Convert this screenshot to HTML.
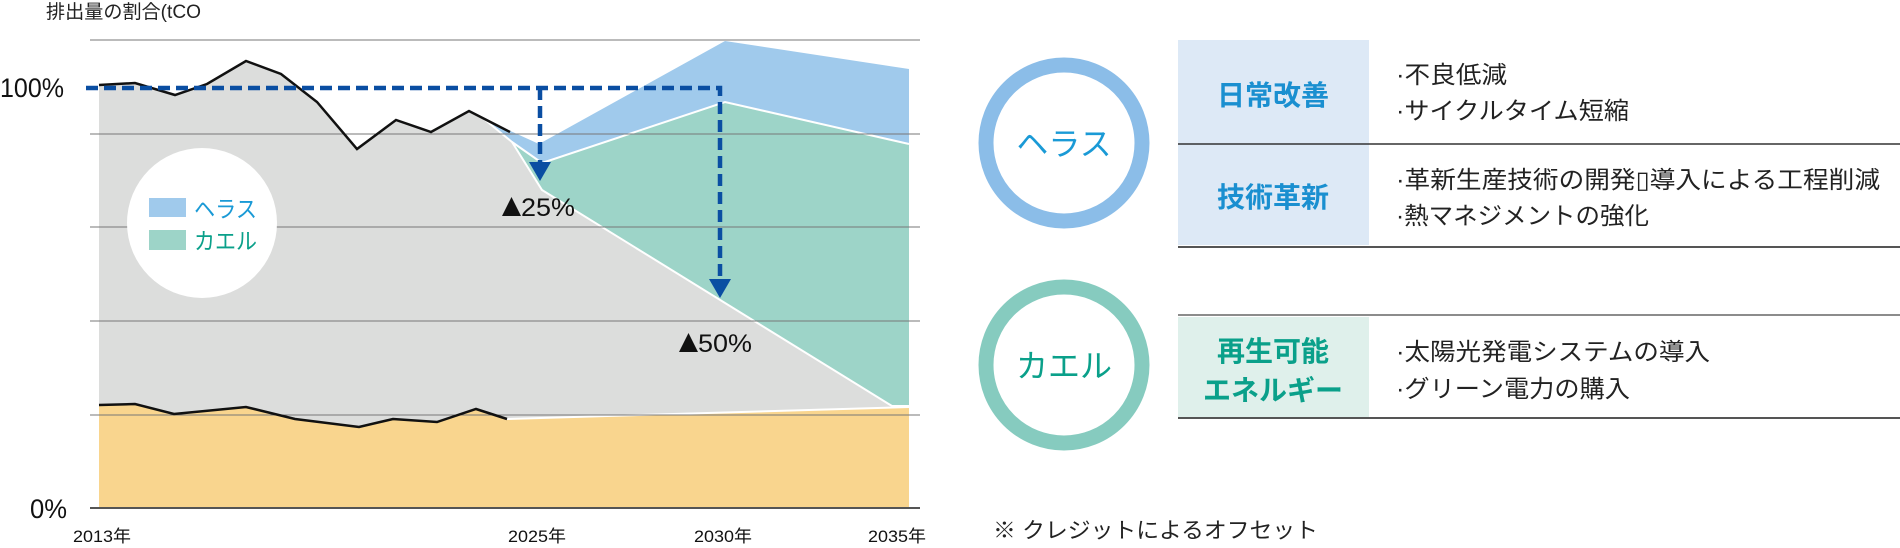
<!DOCTYPE html>
<html><head><meta charset="utf-8"><style>
html,body{margin:0;padding:0;background:#fff;}
svg{display:block;}
text{font-family:"Liberation Sans","Noto Sans CJK JP",sans-serif;}
</style></head><body>
<svg width="1900" height="548" viewBox="0 0 1900 548" xmlns="http://www.w3.org/2000/svg">
<polygon points="484,119 539,144 725,41 909,69 909,144 725,102 542,163 512,142" fill="#a0caec"/>
<polygon points="512,142 542,163 725,102 909,144 909,406 892,406 542,190" fill="#9dd4c8"/>
<polygon points="99,85 135,83 175,95 207,84 246,61 281,74 317,102 357,149 396,120 431,132 469,111 484,119 512,142 542,190 892,406 909,407 507,419 476,409 437,422 393,419 359,427 295,419 246,407 174,414 135,404 99,405" fill="#dcdddc"/>
<polygon points="99,405 135,404 174,414 246,407 295,419 359,427 393,419 437,422 476,409 507,419 909,407 909,508 99,508" fill="#f9d58e"/>
<polyline points="484,119 512,142 542,190 892,406 909,406" fill="none" stroke="#fff" stroke-width="2"/>
<polyline points="512,142 542,163 725,102 909,144" fill="none" stroke="#fff" stroke-width="2"/>
<line x1="507" y1="419" x2="909" y2="407" stroke="#fff" stroke-width="2"/>
<g stroke="#777" stroke-width="1">
<line x1="90" y1="40" x2="920" y2="40"/>
<line x1="90" y1="134" x2="920" y2="134"/>
<line x1="90" y1="227" x2="920" y2="227"/>
<line x1="90" y1="321" x2="920" y2="321"/>
<line x1="90" y1="415" x2="920" y2="415"/>
</g>
<line x1="90" y1="508" x2="920" y2="508" stroke="#555" stroke-width="2"/>
<polyline points="99,85 135,83 175,95 207,84 246,61 281,74 317,102 357,149 396,120 431,132 469,111 510,132" fill="none" stroke="#111" stroke-width="2.5"/>
<polyline points="99,405 135,404 174,414 246,407 295,419 359,427 393,419 437,422 476,409 507,419" fill="none" stroke="#111" stroke-width="2.5"/>
<g stroke="#0a4ea2" stroke-width="4.5" fill="none" stroke-dasharray="12,6">
<polyline points="86,88 720,88 720,280"/>
<line x1="540" y1="88" x2="540" y2="164"/>
</g>
<polygon points="529,162 551,162 540,181" fill="#0a4ea2"/>
<polygon points="709,279 731,279 720,298" fill="#0a4ea2"/>
<circle cx="202" cy="223" r="75" fill="#fff"/>
<rect x="149" y="198" width="37" height="19" fill="#a0caec"/>
<rect x="149" y="230" width="37" height="20" fill="#9dd4c8"/>
<text x="194" y="217" font-size="23" fill="#1a9ad6" textLength="63" lengthAdjust="spacingAndGlyphs">ヘラス</text>
<text x="194" y="249" font-size="23" fill="#0aa08a" textLength="63" lengthAdjust="spacingAndGlyphs">カエル</text>
<text x="46" y="18" font-size="19" fill="#222" textLength="155" lengthAdjust="spacingAndGlyphs">排出量の割合(tCO</text>
<text x="0" y="97" font-size="27" fill="#111" textLength="64" lengthAdjust="spacingAndGlyphs">100%</text>
<text x="30" y="518" font-size="27" fill="#111" textLength="37" lengthAdjust="spacingAndGlyphs">0%</text>
<polygon points="502,216 521,216 511.5,197" fill="#111"/>
<text x="521" y="216" font-size="25" fill="#111" textLength="54" lengthAdjust="spacingAndGlyphs">25%</text>
<polygon points="679,352 698,352 688.5,333" fill="#111"/>
<text x="698" y="352" font-size="25" fill="#111" textLength="54" lengthAdjust="spacingAndGlyphs">50%</text>
<g font-size="17" fill="#111">
<text x="73" y="542" textLength="58" lengthAdjust="spacingAndGlyphs">2013年</text>
<text x="508" y="542" textLength="58" lengthAdjust="spacingAndGlyphs">2025年</text>
<text x="694" y="542" textLength="58" lengthAdjust="spacingAndGlyphs">2030年</text>
<text x="868" y="542" textLength="58" lengthAdjust="spacingAndGlyphs">2035年</text>
</g>
<circle cx="1064" cy="143" r="78" fill="none" stroke="#8bbde8" stroke-width="15"/>
<text x="1064" y="155" font-size="32" fill="#1a9ad6" text-anchor="middle">ヘラス</text>
<circle cx="1064" cy="365" r="78" fill="none" stroke="#86cbbf" stroke-width="15"/>
<text x="1064" y="377" font-size="32" fill="#0aa08a" text-anchor="middle">カエル</text>
<rect x="1178" y="40" width="191" height="205" fill="#dde9f6"/>
<line x1="1178" y1="144" x2="1900" y2="144" stroke="#333" stroke-width="1.5"/>
<line x1="1178" y1="247" x2="1900" y2="247" stroke="#555" stroke-width="2"/>
<rect x="1178" y="317" width="191" height="100" fill="#dff0eb"/>
<line x1="1178" y1="315" x2="1900" y2="315" stroke="#666" stroke-width="1.5"/>
<line x1="1178" y1="418" x2="1900" y2="418" stroke="#555" stroke-width="2"/>
<g font-size="28" font-weight="bold" text-anchor="middle">
<text x="1273" y="105" fill="#1a8fd0">日常改善</text>
<text x="1273" y="207" fill="#1a8fd0">技術革新</text>
<text x="1273" y="361" fill="#0aa08a">再生可能</text>
<text x="1273" y="400" fill="#0aa08a">エネルギー</text>
</g>
<g font-size="24" fill="#222">
<text x="1396" y="83" textLength="111" lengthAdjust="spacingAndGlyphs">·不良低減</text>
<text x="1396" y="119" textLength="233" lengthAdjust="spacingAndGlyphs">·サイクルタイム短縮</text>
<text x="1396" y="188" textLength="484" lengthAdjust="spacingAndGlyphs">·革新生産技術の開発▯導入による工程削減</text>
<text x="1396" y="224" textLength="253" lengthAdjust="spacingAndGlyphs">·熱マネジメントの強化</text>
<text x="1396" y="360" textLength="314" lengthAdjust="spacingAndGlyphs">·太陽光発電システムの導入</text>
<text x="1396" y="397" textLength="234" lengthAdjust="spacingAndGlyphs">·グリーン電力の購入</text>
</g>
<text x="993" y="538" font-size="22" fill="#222" textLength="325" lengthAdjust="spacingAndGlyphs">※ クレジットによるオフセット</text>
</svg>
</body></html>
